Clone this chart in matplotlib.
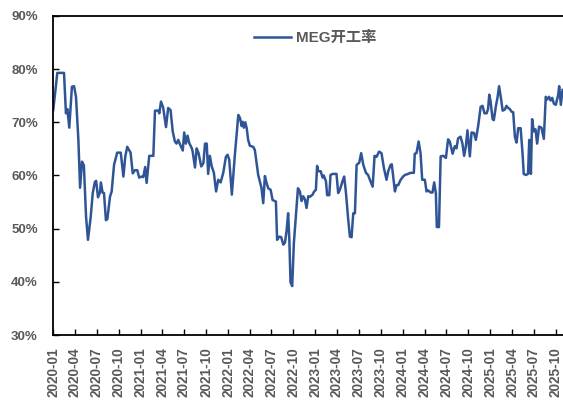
import numpy as np
import matplotlib
matplotlib.use("Agg")
import matplotlib.pyplot as plt
import matplotlib.dates as mdates
from matplotlib.ticker import FuncFormatter

plt.rcParams['font.family'] = ['Liberation Sans', 'Noto Sans CJK SC', 'DejaVu Sans']

series_name = "MEG开工率"
start_date = "2020-01-01"
end_date = "2025-10-31"

# days since 2020-01-01
day_offset = [
    1, 18, 46, 54, 60, 68, 79, 88, 96, 106, 113, 121, 129, 138, 146, 157, 166, 175, 180, 188,
    196, 200, 207, 213, 221, 227, 238, 245, 255, 268, 283, 294, 302, 310, 324, 333, 342, 352, 360, 370,
    377, 385, 391, 402, 419, 426, 440, 444, 451, 460, 472, 481, 491, 500, 509, 516, 523, 533, 542, 548,
    555, 562, 569, 579, 583, 593, 600, 608, 619, 628, 635, 642, 648, 655, 663, 672, 681, 690, 700, 711,
    722, 729, 736, 747, 759, 774, 781, 788, 792, 797, 803, 809, 815, 822, 836, 843, 857, 871, 878, 885,
    892, 899, 909, 917, 931, 936, 945, 953, 962, 969, 976, 982, 987, 992, 999, 1006, 1015, 1023, 1031, 1038,
    1045, 1052, 1059, 1066, 1073, 1084, 1091, 1098, 1103, 1108, 1118, 1126, 1131, 1140, 1145, 1154, 1159, 1168, 1184, 1191,
    1198, 1209, 1216, 1223, 1233, 1240, 1247, 1254, 1261, 1268, 1279, 1287, 1296, 1307, 1316, 1326, 1335, 1343, 1351, 1362,
    1372, 1382, 1393, 1400, 1410, 1415, 1428, 1435, 1442, 1452, 1462, 1470, 1483, 1493, 1507, 1511, 1518, 1527, 1535, 1542,
    1553, 1560, 1567, 1577, 1585, 1592, 1599, 1603, 1612, 1619, 1630, 1641, 1650, 1657, 1669, 1678, 1685, 1692, 1702, 1710,
    1717, 1724, 1731, 1741, 1748, 1758, 1766, 1776, 1786, 1794, 1802, 1811, 1817, 1822, 1827, 1836, 1841, 1850, 1857, 1863,
    1870, 1878, 1887, 1894, 1901, 1908, 1915, 1922, 1929, 1936, 1943, 1953, 1961, 1966, 1975, 1984, 1989, 1996, 2001, 2008,
    2015, 2022, 2030, 2040, 2050, 2058, 2064, 2072, 2078, 2085, 2092, 2100, 2110, 2114, 2121, 2128,
]

meg_rate = [
    72.3, 79.3, 79.3, 71.7, 72.5, 69.0, 76.7, 76.8, 74.8, 66.7, 57.7, 62.6, 61.9, 52.3, 47.9, 52.0, 56.7, 58.8, 59.0, 55.9,
    56.8, 58.7, 56.8, 56.7, 51.6, 51.8, 56.0, 57.0, 62.0, 64.3, 64.3, 59.8, 63.6, 65.4, 64.3, 60.4, 61.0, 61.0, 59.6, 59.8,
    59.7, 61.6, 58.6, 63.7, 63.7, 72.2, 72.2, 71.7, 73.9, 72.8, 69.1, 72.7, 72.3, 68.3, 66.4, 66.0, 66.7, 65.6, 64.7, 68.1,
    66.0, 67.5, 66.1, 65.2, 64.6, 61.5, 65.1, 64.2, 61.7, 62.3, 66.0, 66.0, 60.3, 63.7, 61.7, 60.5, 57.0, 59.2, 58.7, 60.5,
    63.5, 63.9, 63.0, 56.4, 63.6, 71.4, 70.8, 69.3, 70.1, 69.0, 70.0, 68.9, 66.7, 65.6, 65.4, 64.8, 60.1, 57.6, 54.8, 59.9,
    58.6, 57.6, 57.3, 55.4, 55.1, 47.9, 48.5, 48.4, 47.0, 47.4, 49.8, 52.9, 48.0, 39.9, 39.2, 47.3, 52.9, 57.6, 57.0, 55.2,
    56.1, 55.5, 53.9, 56.1, 56.0, 56.4, 57.0, 57.3, 61.8, 60.8, 60.8, 59.6, 60.0, 58.9, 56.3, 56.3, 60.1, 60.3, 60.3, 56.7,
    57.3, 58.9, 59.8, 57.0, 51.7, 48.5, 48.4, 52.9, 52.9, 62.0, 62.4, 64.2, 62.0, 60.5, 60.1, 58.9, 57.9, 63.7, 63.5, 64.5,
    64.2, 61.4, 59.2, 60.8, 62.0, 62.1, 57.0, 58.2, 58.2, 59.2, 59.8, 60.1, 60.3, 60.5, 60.5, 64.1, 64.2, 66.4, 64.2, 59.2,
    59.2, 57.0, 57.2, 56.8, 56.8, 58.7, 56.7, 50.3, 50.3, 63.6, 63.7, 63.3, 66.8, 66.4, 64.1, 65.5, 65.1, 67.0, 67.3, 66.0,
    63.7, 65.4, 68.5, 63.6, 68.1, 68.0, 66.7, 69.4, 72.9, 73.1, 71.7, 71.7, 72.5, 75.2, 74.1, 70.6, 70.4, 73.1, 74.8, 76.8,
    74.8, 72.2, 72.4, 73.1, 72.7, 72.5, 72.0, 71.9, 67.3, 66.2, 68.9, 68.9, 64.2, 60.3, 60.1, 60.3, 66.7, 60.3, 70.6, 68.3,
    68.7, 66.0, 69.2, 69.0, 66.9, 74.8, 74.3, 74.8, 74.1, 74.6, 73.5, 73.3, 75.2, 76.8, 73.3, 76.1,
]

dates = np.datetime64(start_date) + np.array(day_offset).astype('timedelta64[D]')
values = np.array(meg_rate) / 100.0

W, H = 563, 403
fig = plt.figure(figsize=(W / 100, H / 100), dpi=100)
ax = fig.add_axes([53 / W, 1 - 335 / H, (W - 53) / W, (335 - 16) / H])

ax.plot(dates, values, color='#2F5597', linewidth=1.8, label=series_name)

ax.set_xlim(np.datetime64(start_date), np.datetime64(end_date))
ax.set_ylim(0.30, 0.90)
ax.set_yticks(np.arange(0.30, 0.901, 0.10))
ax.yaxis.set_major_formatter(FuncFormatter(lambda v, p: f"{v*100:.0f}%"))
ax.xaxis.set_major_locator(mdates.MonthLocator(bymonth=[1, 4, 7, 10]))
ax.xaxis.set_major_formatter(mdates.DateFormatter('%Y-%m'))

label_color = '#595959'
ax.tick_params(axis='y', direction='in', length=4, width=1, pad=11,
               labelsize=9.5, labelcolor=label_color)
ax.tick_params(axis='x', direction='in', length=4, width=1, pad=9,
               labelsize=9.8, labelcolor=label_color, labelrotation=90)
for lab in ax.get_xticklabels() + ax.get_yticklabels():
    lab.set_fontweight('bold')

for side in ['left', 'top', 'bottom']:
    ax.spines[side].set_linewidth(1.3)
    ax.spines[side].set_color('black')
ax.spines['right'].set_visible(False)

leg = ax.legend(loc='center', bbox_to_anchor=(0.514, 0.931), frameon=False,
                handlelength=2.4, handletextpad=0.3,
                prop={'family': ['Liberation Sans', 'Noto Sans CJK SC'], 'weight': 'bold', 'size': 11})
for t in leg.get_texts():
    t.set_color(label_color)

fig.savefig('out.png', dpi=100)
